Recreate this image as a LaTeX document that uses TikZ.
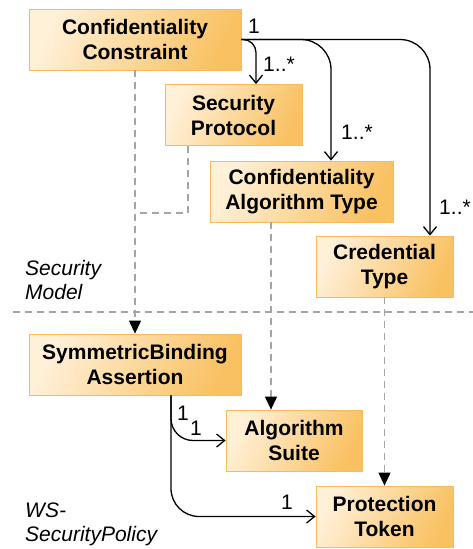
\documentclass[tikz,border=0pt]{standalone}
\usepackage{fontspec}
\setmainfont{Liberation Sans}
\usetikzlibrary{arrows.meta}

\definecolor{boxlight}{HTML}{FFF0D8}
\definecolor{boxdark}{HTML}{F9C162}
\definecolor{boxedge}{HTML}{F7BC5A}
\definecolor{dashgray}{HTML}{A5A5A5}

\begin{document}
\begin{tikzpicture}[x=1pt,y=-1pt,
  box/.style={draw=boxedge,line width=0.8pt,shading=axis,top color=boxlight,bottom color=boxdark,
    shading angle=65,align=center,inner sep=0pt,minimum height=61pt,
    font=\bfseries\fontsize{21}{25}\selectfont},
  assoc/.style={line width=1.3pt,-{Straight Barb[length=8pt,width=13pt]}},
  dashline/.style={dashgray,line width=1.1pt,dash pattern=on 7pt off 5pt},
  realize/.style={dashline,-{Triangle[length=13pt,width=12pt,color=black,fill=black]}},
  mult/.style={inner sep=0pt,font=\fontsize{21}{25}\selectfont},
  note/.style={inner sep=0pt,align=left,anchor=west,font=\itshape\fontsize{21}{24.5}\selectfont}]
\useasboundingbox (0,0) rectangle (473,549);

% security model
\node[box,minimum width=212pt] (cc) at (135,39.5) {Confidentiality\\Constraint};
\node[box,minimum width=137pt] (sp) at (233.5,115) {Security\\Protocol};
\node[box,minimum width=183pt] (cat) at (301.5,191.5) {Confidentiality\\Algorithm Type};
\node[box,minimum width=137pt] (ct) at (384.5,266.5) {Credential\\Type};
\node[note] (secmodel) at (25,280) {Security\\Model};

\draw[dashline] (13,312) -- (473,312);

% ws-securitypolicy
\node[box,minimum width=212pt] (sba) at (135,364.5) {SymmetricBinding\\Assertion};
\node[box,minimum width=136pt] (as) at (294,440.5) {Algorithm\\Suite};
\node[box,minimum width=137pt] (pt) at (384.5,516.5) {Protection\\Token};
\node[note] (wssp) at (25,524.5) {WS-\\SecurityPolicy};

\draw[assoc,rounded corners=13pt] (cc.east) -| ([xshift=22.5pt]sp.north);
\draw[assoc,rounded corners=30pt] (cc.east) -| ([xshift=29.5pt]cat.north);
\draw[assoc,rounded corners=30pt] (cc.east) -| ([xshift=45.5pt]ct.north);
\node[mult] (m0) at (254,26) {1};
\node[mult] (m1) at (279,64) {1..*};
\node[mult] (m2) at (357,132) {1..*};
\node[mult] (m3) at (455,207) {1..*};

\coordinate (join) at (138,213);
\draw[dashline] ([xshift=-45.5pt]sp.south) |- (join);
\draw[realize] (cc.south) -- (sba.north);
\draw[realize] ([xshift=-30.5pt]cat.south) -- ([xshift=-23pt]as.north);
\draw[realize] (ct.south) -- (pt.north);

\draw[assoc,rounded corners=22pt] ([xshift=36pt]sba.south) |- (as.west);
\draw[assoc,rounded corners=28pt] ([xshift=36pt]sba.south) |- (pt.west);
\node[mult] (m4) at (183,413) {1};
\node[mult] (m5) at (196,428) {1};
\node[mult] (m6) at (287,502) {1};

\end{tikzpicture}
\end{document}
